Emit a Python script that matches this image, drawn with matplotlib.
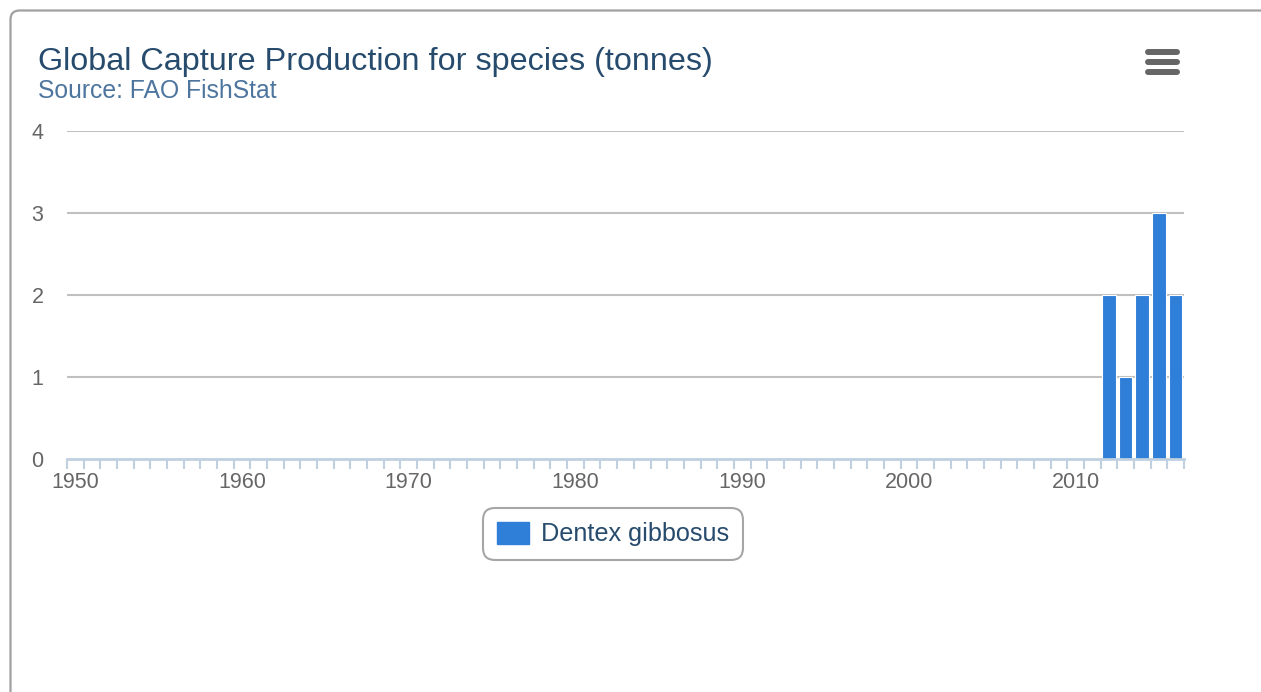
import numpy as np
import matplotlib
matplotlib.use("Agg")
import matplotlib.pyplot as plt
from matplotlib.patches import FancyBboxPatch, Patch

plt.rcParams.update({
    "font.family": ["Liberation Sans", "DejaVu Sans"],
})

# data
years = list(range(1950, 2017))
values = [0] * 62 + [2, 1, 2, 3, 2]   # 1950-2011 nothing, then 2012-2016
species = "Dentex gibbosus"
title = "Global Capture Production for species (tonnes)"
subtitle = "Source: FAO FishStat"
y_ticks = [0, 1, 2, 3, 4]
x_labels = [1950, 1960, 1970, 1980, 1990, 2000, 2010]

W, H = 1261, 692
fig = plt.figure(figsize=(W / 100, H / 100), dpi=100)

# outer container border (runs off the right and bottom edges)
frame = FancyBboxPatch((10.5, -30), 1300, H - 10.5 + 30,
                       boxstyle="round,pad=0,rounding_size=9",
                       transform=None, facecolor="none",
                       edgecolor="#a0a0a0", linewidth=1.6, zorder=-5)
fig.patches.append(frame)

ax = fig.add_axes([67 / W, 1 - 459 / H, (1184 - 67) / W, (459 - 131) / H])
ax.patch.set_alpha(0)

ax.bar(years, values, width=0.82, color="#2f7ed8", edgecolor="white",
       linewidth=0.8, label=species, zorder=3)

ax.set_xlim(years[0] - 0.5, years[-1] + 0.5)
ax.set_ylim(0, 4)

# horizontal grid
ax.set_yticks(y_ticks)
for v in y_ticks[1:]:
    ax.axhline(v, color="#c0c0c0", linewidth=1.5, zorder=1)
ax.tick_params(axis="y", length=0, pad=17, labelsize=15.5, labelcolor="#666666")

# x axis: ticks on category boundaries, labels on categories
ax.set_xticks(x_labels)
ax.set_xticklabels([str(x) for x in x_labels])
ax.tick_params(axis="x", length=0, pad=9, labelsize=15.5, labelcolor="#666666")
bounds = np.arange(years[0] - 0.5, years[-1] + 1.0, 1.0)
ax.vlines(bounds, -0.03, 0, color="#c0d0e0", linewidth=1.5,
          transform=ax.get_xaxis_transform(), clip_on=False, zorder=2)

for s in ["top", "right", "left"]:
    ax.spines[s].set_visible(False)
ax.spines["bottom"].set_color("#c0d0e0")
ax.spines["bottom"].set_linewidth(2)
ax.spines["bottom"].set_zorder(4)

# titles
fig.text(38 / W, 1 - 70 / H, title, fontsize=23.3, color="#274b6d",
         ha="left", va="baseline")
fig.text(38 / W, 1 - 98 / H, subtitle, fontsize=17.8, color="#4d759e",
         ha="left", va="baseline")

# hamburger menu icon
for yy in (52, 62, 72):
    fig.add_artist(plt.Line2D([1148 / W, 1177 / W], [1 - yy / H, 1 - yy / H],
                              color="#666666", linewidth=4.3,
                              solid_capstyle="round"))

# legend
leg = fig.legend(handles=[Patch(facecolor="#2f7ed8", edgecolor="#2f7ed8", label=species)],
                 loc="center", bbox_to_anchor=(613 / W, 1 - 534 / H),
                 fontsize=18.2, frameon=True, handlelength=1.27, handleheight=1.0,
                 handletextpad=0.5, borderpad=0.3, fancybox=True)
leg.get_frame().set_edgecolor("#909090")
leg.get_frame().set_linewidth(1.5)
leg.get_frame().set_boxstyle("round,pad=0.25,rounding_size=0.5")
for t in leg.get_texts():
    t.set_color("#274b6d")

fig.savefig("out.png", dpi=100)
